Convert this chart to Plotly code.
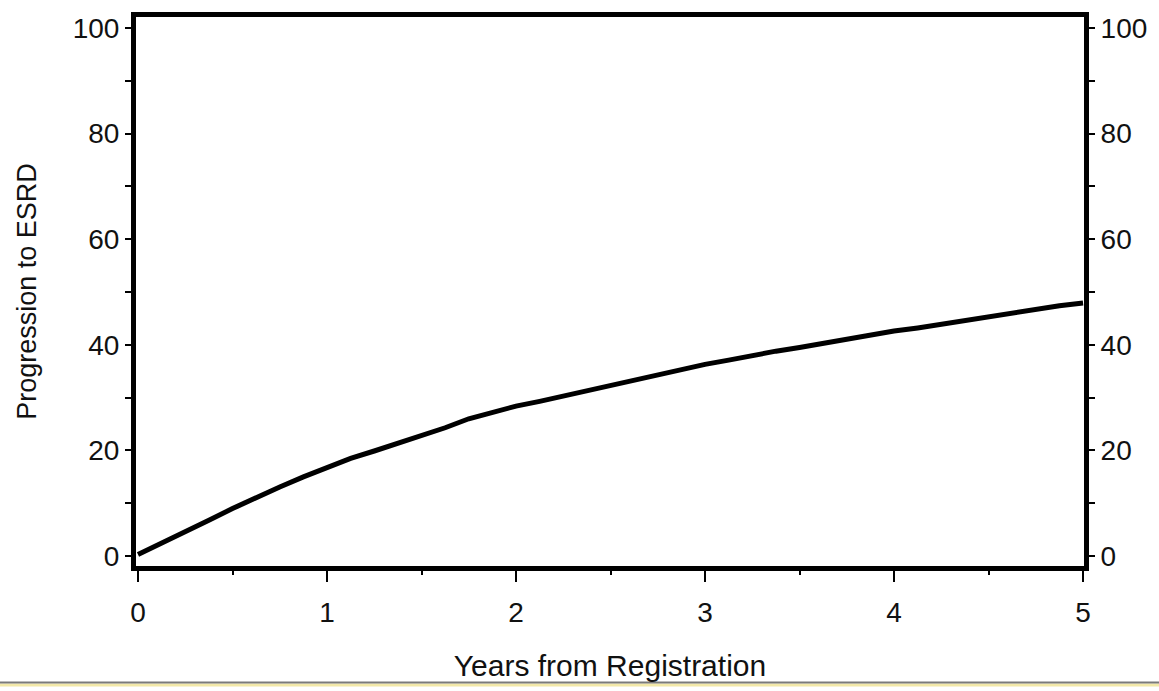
import plotly.graph_objects as go

# Cumulative progression to ESRD (%) by years from registration
years = [0, 0.125, 0.25, 0.375, 0.5, 0.625, 0.75, 0.875, 1.0, 1.125, 1.25, 1.375,
         1.5, 1.625, 1.75, 1.875, 2.0, 2.125, 2.25, 2.375, 2.5, 2.625, 2.75, 2.875,
         3.0, 3.125, 3.25, 3.375, 3.5, 3.625, 3.75, 3.875, 4.0, 4.125, 4.25, 4.375,
         4.5, 4.625, 4.75, 4.875, 5.0]
progression = [0.3, 2.4, 4.6, 6.8, 9.0, 11.1, 13.1, 15.0, 16.8, 18.5, 19.9, 21.3,
               22.9, 24.3, 26.0, 27.2, 28.4, 29.3, 30.3, 31.3, 32.5, 33.4, 34.5, 35.4,
               36.3, 37.1, 38.0, 38.8, 39.5, 40.3, 41.1, 41.9, 42.6, 43.2, 43.9, 44.6,
               45.4, 46.2, 46.8, 47.4, 47.9]

x_ticks = [0, 1, 2, 3, 4, 5]
y_ticks = [0, 20, 40, 60, 80, 100]

FONT = "Liberation Sans, Arial, sans-serif"
X_RANGE = [-0.0106, 5.005]
Y_RANGE = [-1.87, 102.06]

fig = go.Figure()
fig.add_trace(go.Scatter(x=years, y=progression, mode="lines",
                         line=dict(color="black", width=5), showlegend=False,
                         hoverinfo="skip"))
# invisible trace so the right-hand axis is drawn with its own labels
fig.add_trace(go.Scatter(x=[years[0]], y=[progression[0]], yaxis="y2", mode="lines",
                         line=dict(width=0), showlegend=False, hoverinfo="skip"))

axis_common = dict(showgrid=False, zeroline=False, showline=True, linecolor="black",
                   linewidth=5, ticks="outside", tickcolor="black", tickwidth=2,
                   tickfont=dict(family=FONT, size=28, color="#111"))

fig.update_layout(
    width=1159, height=691,
    margin=dict(l=136, r=73, t=13, b=122),
    paper_bgcolor="white", plot_bgcolor="white",
    xaxis=dict(**axis_common, range=X_RANGE, tickvals=x_ticks, ticklen=11,
               ticklabelstandoff=6,
               minor=dict(dtick=0.5, tick0=0, ticks="outside", ticklen=4,
                          tickcolor="black", tickwidth=2),
               mirror=True,
               title=dict(text="Years from Registration", standoff=30,
                          font=dict(family=FONT, size=30, color="#111"))),
    yaxis=dict(**axis_common, range=Y_RANGE, tickvals=y_ticks, ticklen=6,
               minor=dict(dtick=10, tick0=0, ticks="outside", ticklen=6,
                          tickcolor="black", tickwidth=2),
               mirror=True,
               title=dict(text="Progression to ESRD", standoff=30,
                          font=dict(family=FONT, size=27, color="#111"))),
    yaxis2=dict(**axis_common, range=Y_RANGE, tickvals=y_ticks, ticklen=6,
                minor=dict(dtick=10, tick0=0, ticks="outside", ticklen=6,
                           tickcolor="black", tickwidth=2),
                overlaying="y", side="right"),
    shapes=[
        dict(type="rect", xref="paper", yref="paper", x0=-0.2, x1=1.1,
             y0=-(691 - 569) / 556, y1=-(688 - 569) / 556,
             fillcolor="#f2e8a8", line=dict(width=0), layer="below"),
        dict(type="line", xref="paper", yref="paper", x0=-0.2, x1=1.1,
             y0=-(687 - 569) / 556, y1=-(687 - 569) / 556,
             line=dict(color="#7a7a7a", width=2)),
    ],
)

fig.write_html("out.html")
